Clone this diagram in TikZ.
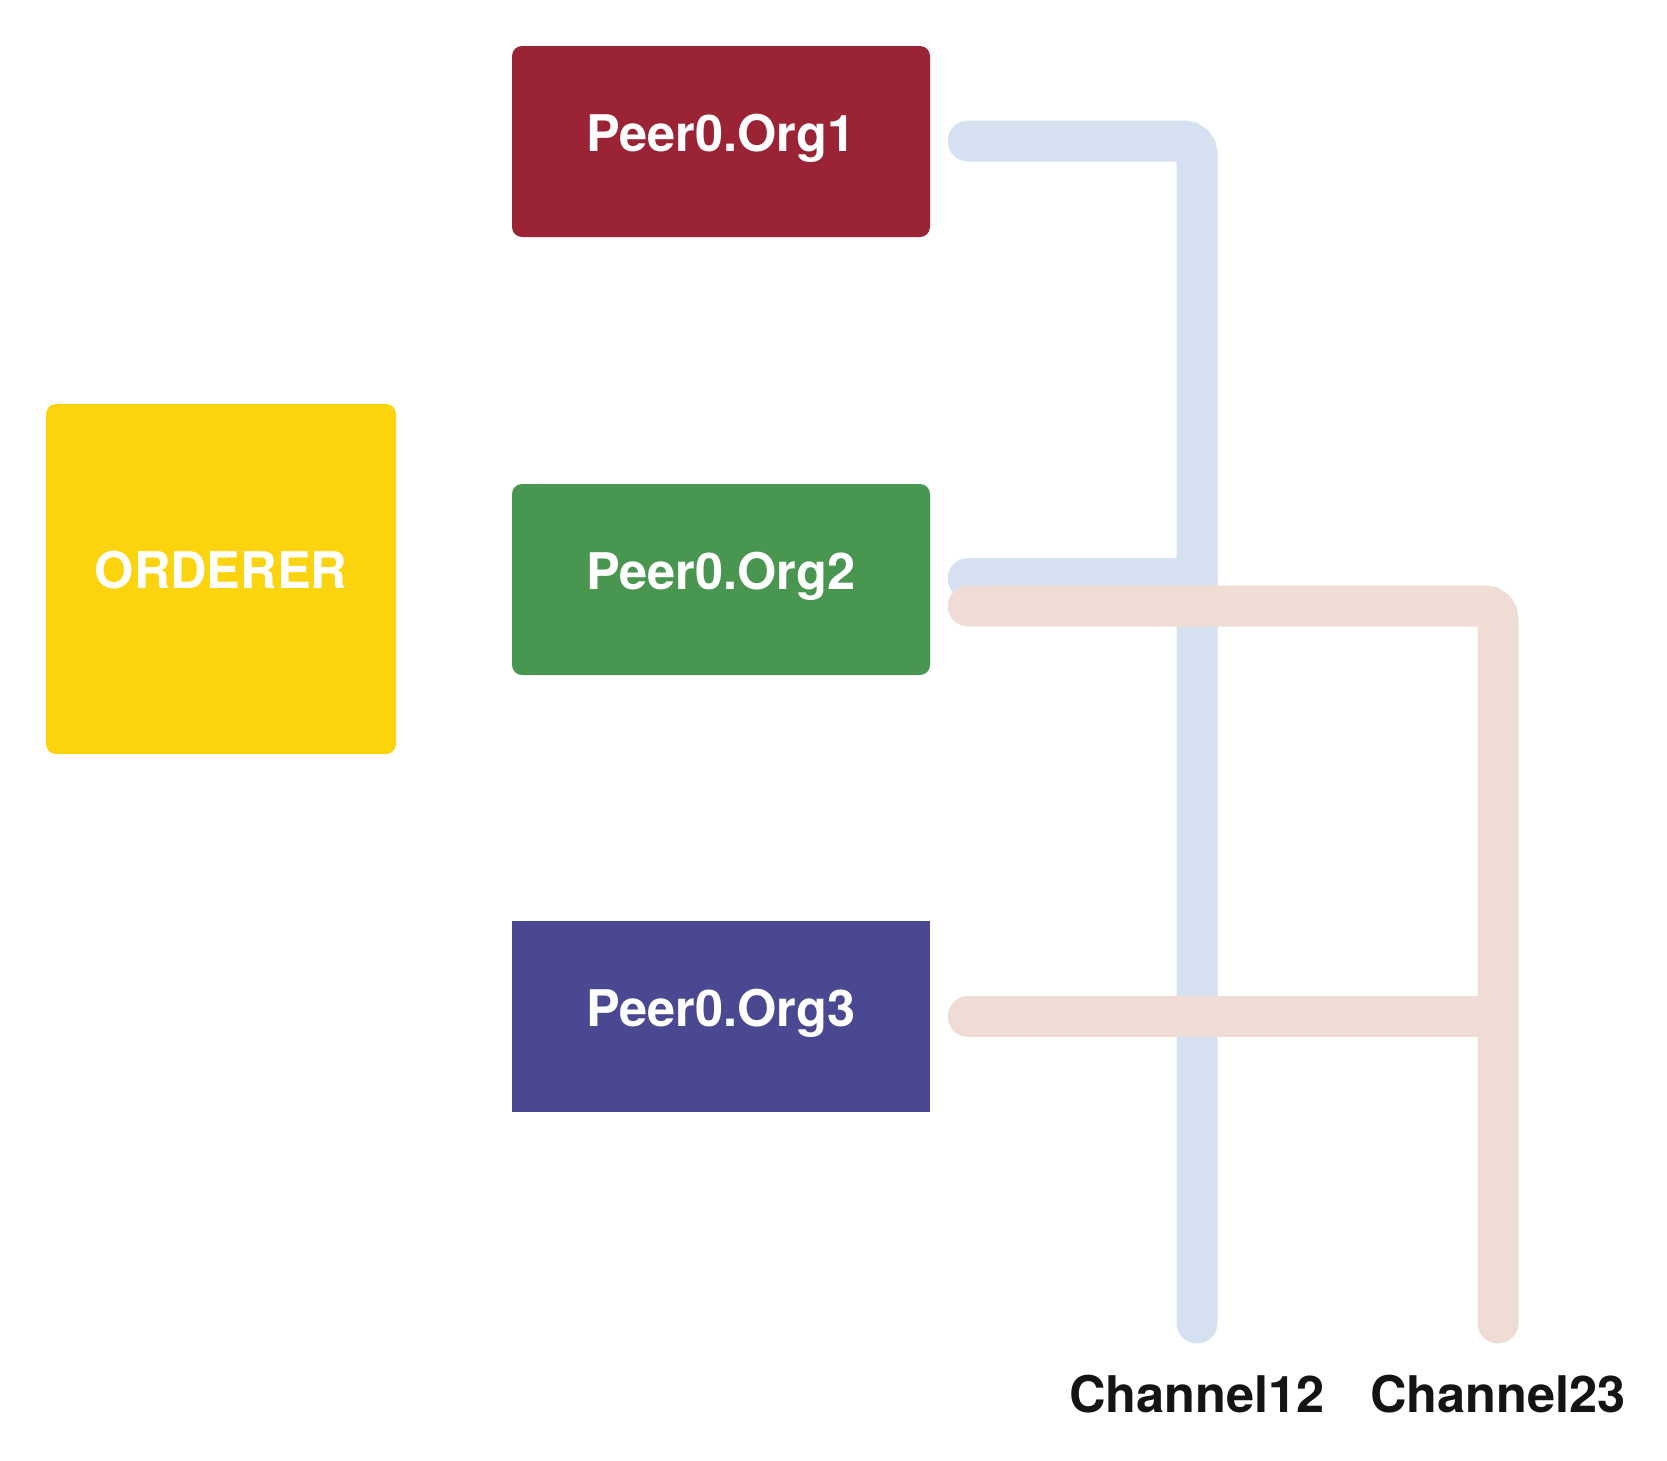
\documentclass[tikz,border=0pt]{standalone}
\usepackage{fontspec}
\setmainfont{TeX Gyre Heros}
\definecolor{orgred}{HTML}{9B2336}
\definecolor{orggreen}{HTML}{48964F}
\definecolor{orgblue}{HTML}{4B4892}
\definecolor{ordyellow}{HTML}{FCD40E}
\definecolor{chblue}{HTML}{D5E0F1}
\definecolor{chpeach}{HTML}{EEDCD5}
\definecolor{labelblack}{HTML}{141414}
\tikzset{
  box/.style={rectangle, inner sep=0pt, minimum width=418pt, minimum height=191pt,
    text=white, font=\fontsize{50.5}{60}\selectfont\bfseries,
    text height=35.2pt, text depth=16pt, align=center},
  roundbox/.style={box, rounded corners=10pt},
  chline/.style={line width=41pt, line cap=round},
  chlabel/.style={anchor=base, inner sep=0pt, text=labelblack, font=\fontsize{50.5}{60}\selectfont\bfseries}
}
\begin{document}
\begin{tikzpicture}[x=1pt, y=-1pt]
\useasboundingbox (0,0) rectangle (1667,1460);
% nodes
\node[roundbox, fill=ordyellow, minimum width=350pt, minimum height=350pt] (ord) at (221,579) {ORDERER};
\node[roundbox, fill=orgred] (p1) at (721,141.5) {Peer0.Org1};
\node[roundbox, fill=orggreen] (p2) at (721,579.5) {Peer0.Org2};
\node[box, fill=orgblue] (p3) at (721,1016.5) {Peer0.Org3};
% channel ends and labels
\coordinate (c12) at (1197,1323);
\coordinate (c23) at (1498,1323);
\node[chlabel] (l12) at (1197,1412) {Channel12};
\node[chlabel] (l23) at (1498,1412) {Channel23};
% Channel12 (blue)
\draw[chline, draw=chblue, rounded corners=13pt] ([xshift=38pt,yshift=0.5pt]p1.east) -| (c12);
\draw[chline, draw=chblue] ([xshift=38pt,yshift=1.5pt]p2.east) -- ([yshift=1.5pt]p2.east -| c12);
% Channel23 (peach)
\draw[chline, draw=chpeach, rounded corners=13pt] ([xshift=38pt,yshift=-26.5pt]p2.east) -| (c23);
\draw[chline, draw=chpeach] ([xshift=38pt]p3.east) -- (p3.east -| c23);
\end{tikzpicture}
\end{document}
